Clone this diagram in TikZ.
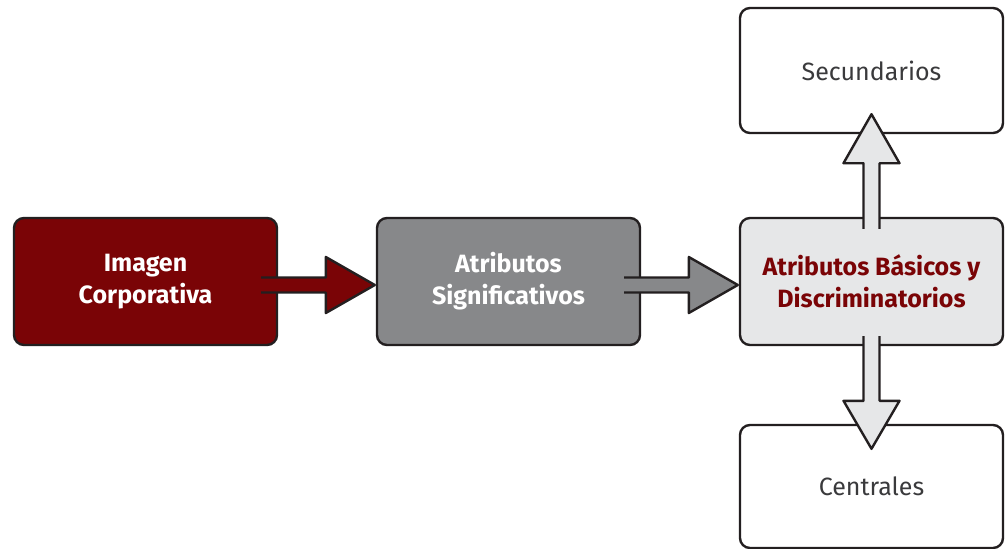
\documentclass[tikz,border=0pt]{standalone}
\usepackage{fontspec}
\setmainfont{Fira Sans}
\usetikzlibrary{calc}
\definecolor{dred}{HTML}{7A0406}
\definecolor{mgray}{HTML}{87888A}
\definecolor{lgray}{HTML}{E6E7E8}
\definecolor{outl}{HTML}{231F20}
\definecolor{txtgray}{HTML}{3A3A3C}
\tikzset{
  box/.style={draw=outl, line width=2.4pt, rounded corners=10pt, minimum width=263pt, minimum height=127pt, inner sep=0pt, align=center},
  boldtxt/.style={font=\fontsize{25}{32}\selectfont\bfseries},
  regtxt/.style={font=\fontsize{25}{28}\selectfont, text=txtgray},
  fat/.style={draw=outl, line width=2.4pt, line join=round},
}
\begin{document}
\begin{tikzpicture}[x=1pt,y=-1pt]
\useasboundingbox (0,0) rectangle (1005,549);
\node[box, fill=dred, boldtxt, text=white] (a) at (145.5,281.5) {Imagen\\Corporativa};
\node[box, fill=mgray, boldtxt, text=white] (b) at (508.5,281.5) {Atributos\\Significativos};
\node[box, fill=lgray, boldtxt, text=dred] (c) at (871.5,281.5) {Atributos Básicos y\\Discriminatorios};
\node[box, fill=white, minimum height=125pt, regtxt] (d) at (871.5,70.5) {Secundarios};
\node[box, fill=white, minimum height=123pt, regtxt] (e) at (871.5,486.5) {Centrales};
% right arrows
\foreach \s/\t/\col in {a/b/dred, b/c/mgray}{
  \coordinate (S) at ($(\s.east)+(-17,3.5)$);
  \coordinate (T) at ($(\t.west)+(-1,3.5)$);
  \fill[\col] ($(S)+(0,-7.5)$) -- ($(T)+(-49,-7.5)$) -- ($(T)+(-49,-28)$) -- (T) -- ($(T)+(-49,28)$) -- ($(T)+(-49,7.5)$) -- ($(S)+(0,7.5)$) -- cycle;
  \draw[fat] ($(S)+(0,-7.5)$) -- ($(T)+(-49,-7.5)$) -- ($(T)+(-49,-28)$) -- (T) -- ($(T)+(-49,28)$) -- ($(T)+(-49,7.5)$) -- ($(S)+(0,7.5)$);
}
% up arrow
\coordinate (S) at ($(c.north)+(0,12)$);
\coordinate (T) at ($(d.south)+(0,-20)$);
\fill[lgray] ($(S)+(-8,0)$) -- ($(T)+(-8,49)$) -- ($(T)+(-28,49)$) -- (T) -- ($(T)+(28,49)$) -- ($(T)+(8,49)$) -- ($(S)+(8,0)$) -- cycle;
\draw[fat] ($(S)+(-8,0)$) -- ($(T)+(-8,49)$) -- ($(T)+(-28,49)$) -- (T) -- ($(T)+(28,49)$) -- ($(T)+(8,49)$) -- ($(S)+(8,0)$);
% down arrow
\coordinate (S) at ($(c.south)+(0,-10)$);
\coordinate (T) at ($(e.north)+(0,25)$);
\fill[lgray] ($(S)+(-8,0)$) -- ($(T)+(-8,-48)$) -- ($(T)+(-28,-48)$) -- (T) -- ($(T)+(28,-48)$) -- ($(T)+(8,-48)$) -- ($(S)+(8,0)$) -- cycle;
\draw[fat] ($(S)+(-8,0)$) -- ($(T)+(-8,-48)$) -- ($(T)+(-28,-48)$) -- (T) -- ($(T)+(28,-48)$) -- ($(T)+(8,-48)$) -- ($(S)+(8,0)$);
\end{tikzpicture}
\end{document}
